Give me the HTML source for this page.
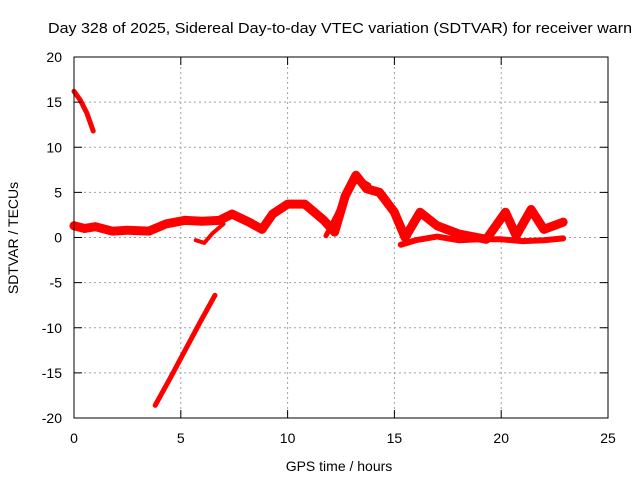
<!DOCTYPE html>
<html><head><meta charset="utf-8"><style>
body{margin:0;background:#fff;}
svg{display:block;font-family:"Liberation Sans",sans-serif;font-size:14px;}
</style></head><body>
<svg id="chart" width="640" height="480">
<text x="48" y="33" font-size="15" textLength="584" lengthAdjust="spacingAndGlyphs">Day 328 of 2025, Sidereal Day-to-day VTEC variation (SDTVAR) for receiver warn</text>
<text x="339" y="471" text-anchor="middle">GPS time / hours</text>
<text transform="translate(18,238) rotate(-90)" text-anchor="middle">SDTVAR / TECUs</text>
<g id="grid"></g><g id="series"></g>
<rect x="74" y="57" width="534" height="361" fill="none" stroke="#000" stroke-width="1"/>
<g id="ticks"></g>
</svg>
<script>
const xTicks=[0,5,10,15,20,25];
const yTicks=[20,15,10,5,0,-5,-10,-15,-20];
const mainH=[0,0.5,1,1.8,2.5,3.5,4.3,5.2,6,6.8,7.4,8.2,8.8,9.3,10,10.8,11.7,12.2,12.7,13.2,13.7,14.3,15,15.5,16.2,17,18,19.3,20.2,20.7,21.4,22,22.9];
const mainV=[1.3,1.0,1.2,0.7,0.8,0.7,1.5,1.9,1.8,1.9,2.6,1.7,0.9,2.6,3.7,3.7,1.9,0.6,4.6,6.9,5.4,5.0,2.8,0,2.8,1.3,0.4,-0.2,2.8,0.2,3.1,0.9,1.7];
const lowH=[15.3,16,17,18,19,20,21,22,22.9];
const lowV=[-0.8,-0.3,0.1,-0.3,-0.2,-0.2,-0.4,-0.3,-0.1];
const strandH=[11.8,12.3,12.9,13.3,13.8];
const strandV=[0.2,2.5,5.5,6.5,5.8];
const dipH=[5.7,6.1,6.5,7.0];
const dipV=[-0.3,-0.6,0.5,1.5];
const topH=[0,0.3,0.6,0.9];
const topV=[16.2,15.2,13.8,11.8];
const diagH=[3.8,4.5,5.2,5.9,6.6];
const diagV=[-18.6,-15.6,-12.5,-9.4,-6.4];
const X=h=>74+h*534/25, Y=v=>237.5-v*361/40;
const ns="http://www.w3.org/2000/svg";
const grid=document.getElementById('grid'),ticks=document.getElementById('ticks'),ser=document.getElementById('series');
function mk(tag,a,p){const e=document.createElementNS(ns,tag);for(const k in a)e.setAttribute(k,a[k]);p.appendChild(e);return e;}
xTicks.forEach(t=>{const x=X(t);
 if(t>0&&t<25){const g=mk('line',{x1:x,x2:x,y1:57,y2:418,stroke:'#a0a0a0','stroke-dasharray':'2,3'},grid);
 
 }
 mk('line',{x1:x,x2:x,y1:418,y2:410,stroke:'#000'},ticks);mk('line',{x1:x,x2:x,y1:57,y2:65,stroke:'#000'},ticks);
 const l=mk('text',{x:x,y:443,'text-anchor':'middle'},ticks);l.textContent=t;
 
 });
yTicks.forEach(t=>{const y=Y(t);
 if(t>-20&&t<20){const g=mk('line',{x1:74,x2:608,y1:y,y2:y,stroke:'#a0a0a0','stroke-dasharray':'2,3'},grid);
 
 }
 mk('line',{x1:74,x2:82,y1:y,y2:y,stroke:'#000'},ticks);mk('line',{x1:600,x2:608,y1:y,y2:y,stroke:'#000'},ticks);
 const l=mk('text',{x:62,y:y+5,'text-anchor':'end'},ticks);l.textContent=t;
 
 });
function line(hs,vs,w,name){const p=mk('polyline',{points:hs.map((h,i)=>X(h)+','+Y(vs[i])).join(' '),fill:'none',stroke:'#ff0000','stroke-width':w,'stroke-linejoin':'round','stroke-linecap':'round'},ser);
 
 }
line(mainH,mainV,9,'sdtvar-main-band');
line(lowH,lowV,6,'sdtvar-low-band');
line(strandH,strandV,5,'sdtvar-strand');
line(dipH,dipV,4,'sdtvar-dip');
line(topH,topV,5,'sdtvar-top-arc');
line(diagH,diagV,5,'sdtvar-diagonal-arc');
</script>
</body></html>
